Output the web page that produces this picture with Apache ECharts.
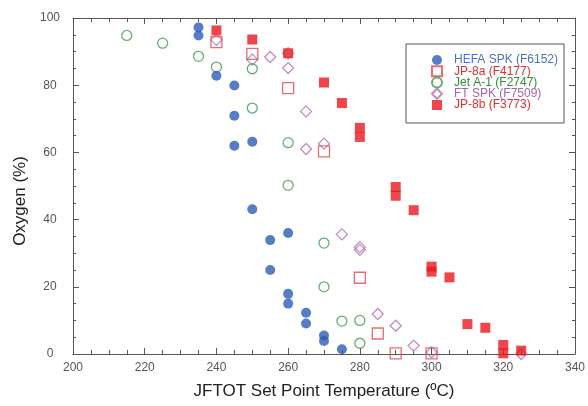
<!DOCTYPE html>
<html><head><meta charset="utf-8">
<script src="https://cdn.jsdelivr.net/npm/echarts@6/dist/echarts.min.js"></script>
<style>html,body{margin:0;padding:0;background:#fff}#c{width:588px;height:406px}</style>
</head><body><div id="c"></div>
<script>
const seriesNames = ['HEFA SPK (F6152)', 'JP-8a (F4177)', 'Jet A-1 (F2747)', 'FT SPK (F7509)', 'JP-8b (F3773)'];
const xTicks = [200, 220, 240, 260, 280, 300, 320, 340];
const yTicks = [0, 20, 40, 60, 80, 100];

const hefa = [[235,97.2],[235,94.8],[240,82.8],[245,79.9],[245,70.9],[245,62],[250,63.2],[250,43.1],
  [255,33.9],[255,25],[260,36],[260,17.9],[260,15],[265,12.3],[265,9.1],[270,5.5],[270,3.9],[275,1.4]];
const jp8a = [[240,92.8],[250,89.3],[260,79.1],[270,60.3],[280,22.7],[285,6.1],[290,0.2],[300,0.2]];
const jetA1 = [[215,94.8],[225,92.5],[235,88.6],[240,85.4],[250,84.9],[250,73.2],[260,62.9],[260,50.2],
  [270,33],[270,20],[275,9.8],[280,10],[280,3.2]];
const ftSpk = [[240,93.5],[250,87.6],[255,88.4],[260,89.5],[260,85.1],[265,72.2],[265,61],[270,62.6],
  [275,35.6],[280,31.8],[280,31],[285,11.9],[290,8.4],[295,2.5],[300,0.5],[325,0]];
const jp8b = [[240,96.3],[250,93.6],[260,89.5],[270,80.8],[275,74.7],[280,67.3],[280,64.6],[290,49.7],
  [290,47.1],[295,42.8],[300,26],[300,24.5],[305,22.8],[310,8.9],[315,7.8],[320,2.7],[320,0.2],[325,1]];

const FONT = 'Liberation Sans, Arial, sans-serif';
const AX = '#555';
const legendColors = ['#4a72c0', '#e0302f', '#2f8f3b', '#a862b2', '#e0302f'];

const chart = echarts.init(document.getElementById('c'), null, {renderer: 'canvas'});

function xAx(pos, main) {
  return {
    type: 'value', min: 200, max: 340, interval: 20, position: pos,
    axisLine: {show: true, onZero: false, lineStyle: {color: AX, width: 1}},
    axisTick: {show: true, inside: true, length: 6, lineStyle: {color: AX, width: 1}},
    minorTick: {show: true, splitNumber: 4, length: 4, lineStyle: {color: AX, width: 1}},
    splitLine: {show: false}, minorSplitLine: {show: false},
    axisLabel: {show: main, color: '#555', fontSize: 12, fontFamily: FONT, margin: 8,
      showMinLabel: true, showMaxLabel: true,
      formatter: v => xTicks.includes(v) ? String(v) : ''},
    name: main ? 'JFTOT Set Point Temperature (\u00BAC)' : '',
    nameLocation: 'middle', nameGap: 29,
    nameTextStyle: {fontSize: 17, color: '#222', fontFamily: FONT}
  };
}
function yAx(pos, main) {
  return {
    type: 'value', min: 0, max: 100, interval: 20, position: pos,
    axisLine: {show: true, onZero: false, lineStyle: {color: AX, width: 1}},
    axisTick: {show: true, inside: true, length: 6, lineStyle: {color: AX, width: 1}},
    minorTick: {show: true, splitNumber: 4, length: 3, lineStyle: {color: AX, width: 1}},
    splitLine: {show: false}, minorSplitLine: {show: false},
    axisLabel: {show: main, color: '#555', fontSize: 12, fontFamily: FONT, margin: 23, align: 'center',
      formatter: v => yTicks.includes(v) ? String(v) : ''},
    name: main ? 'Oxygen (%)' : '',
    nameLocation: 'middle', nameGap: 43,
    nameTextStyle: {fontSize: 17, color: '#222', fontFamily: FONT, padding: [0, 30, 0, 0]}
  };
}

const openStyle = c => ({color: 'rgba(255,255,255,0)', borderColor: c, borderWidth: 1.3});

chart.setOption({
  animation: false,
  backgroundColor: '#fff',
  grid: {left: 73, right: 8, top: 18, bottom: 52},
  xAxis: [xAx('bottom', true), xAx('top', false)],
  yAxis: [yAx('left', true), yAx('right', false)],
  legend: {
    orient: 'vertical', left: 406, top: 44, padding: [10, 6, 12, 25],
    itemGap: -0.75, itemWidth: 10, itemHeight: 10,
    borderColor: '#555', borderWidth: 1, backgroundColor: '#fff',
    textStyle: {fontSize: 12, fontFamily: FONT, padding: [0, 0, 0, 7]},
    data: seriesNames.map((n, i) => ({name: n, textStyle: {color: legendColors[i], padding: [0, 0, 0, 7]}}))
  },
  series: [
    {name: seriesNames[2], type: 'scatter', data: jetA1, symbol: 'circle', symbolSize: 10,
      itemStyle: openStyle('#3f9a4f')},
    {name: seriesNames[3], type: 'scatter', data: ftSpk, symbol: 'diamond', symbolSize: 11,
      itemStyle: openStyle('#b070b8')},
    {name: seriesNames[1], type: 'scatter', data: jp8a, symbol: 'rect', symbolSize: 11,
      itemStyle: openStyle('#e4474c')},
    {name: seriesNames[0], type: 'scatter', data: hefa, symbol: 'circle', symbolSize: 10,
      itemStyle: {color: '#2d5db5'}},
    {name: seriesNames[4], type: 'scatter', data: jp8b, symbol: 'rect', symbolSize: 10,
      itemStyle: {color: '#e8191e'}}
  ]
});
</script>
</body></html>
